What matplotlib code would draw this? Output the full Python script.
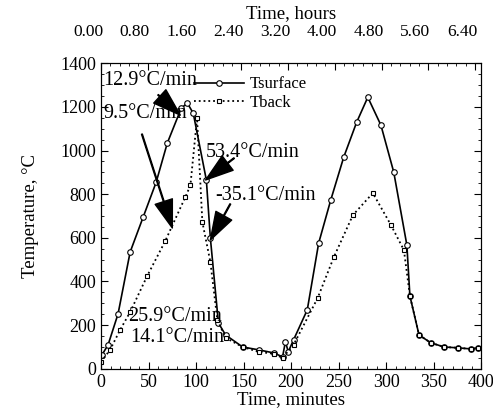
import numpy as np
import matplotlib
matplotlib.use("Agg")
from matplotlib import pyplot as plt
from matplotlib.ticker import MultipleLocator
import matplotlib.transforms as mtransforms

# Surface thermocouple (solid line)
t_surf = [1, 7.4, 17.9, 30.6, 44.3, 58, 69.7, 84.4, 90.8, 97, 110.8, 115, 123.5, 131,
          149, 165.7, 181.5, 191, 194, 197, 202.6, 217, 229, 241.7, 255.4, 269, 280.7,
          294.5, 308, 321.8, 325, 334.6, 347, 361, 375.7, 389.4, 396.8]
T_surf = [64, 110, 252, 535, 695, 855, 1034, 1194, 1217, 1171, 865, 600, 210, 155,
          100, 87, 73, 55, 124, 78, 133, 270, 576, 773, 970, 1130, 1244,
          1116, 901, 567, 334, 155, 119, 100, 96, 91, 96]

# Back-face thermocouple (dotted line)
t_back = [0, 9.5, 20, 30.6, 48.5, 67.5, 88.7, 94, 101, 106.6, 115, 122.4, 131,
          149, 165.7, 181.5, 191, 202.6, 228, 245, 265, 286, 305, 318.7, 325,
          334.6, 347, 361, 375.7, 389.4, 396.8]
T_back = [32, 87, 178, 260, 425, 585, 787, 840, 1148, 672, 490, 224, 142,
          100, 78, 69, 50, 110, 325, 512, 704, 805, 659, 544, 334,
          155, 119, 100, 96, 91, 96]

hour_ticks = [0.0, 0.8, 1.6, 2.4, 3.2, 4.0, 4.8, 5.6, 6.4]

plt.rcParams['font.family'] = ['Liberation Serif', 'DejaVu Serif']

fig = plt.figure(figsize=(4.93, 4.13), dpi=100)
ax = fig.add_axes([0.205, 0.107, 0.771, 0.74])

ax.plot(t_surf, T_surf, '-', color='black', lw=1.2, marker='o', ms=4,
        mfc='white', mec='black', mew=0.8, label='Tsurface')
ax.plot(t_back, T_back, ':', color='black', lw=1.3, marker='s', ms=3.5,
        mfc='white', mec='black', mew=0.8, label='Tback')

ax.set_xlim(0, 400)
ax.set_ylim(0, 1400)
ax.xaxis.set_major_locator(MultipleLocator(50))
ax.xaxis.set_minor_locator(MultipleLocator(10))
ax.yaxis.set_major_locator(MultipleLocator(200))
ax.yaxis.set_minor_locator(MultipleLocator(50))
ax.tick_params(which='both', direction='in', right=True, labelsize=13)
ax.tick_params(which='major', length=5)
ax.tick_params(which='minor', length=2.5)
ax.set_xlabel('Time, minutes', fontsize=13.5, labelpad=0)
ax.set_ylabel('Temperature, °C', fontsize=13.5, labelpad=15)

# top axis in hours
ax2 = ax.twiny()
ax2.set_xlim(0, 6.505)
ax2.set_xticks(hour_ticks)
ax2.set_xticklabels(['%.2f' % h for h in hour_ticks])
ax2.xaxis.set_minor_locator(MultipleLocator(0.16))
ax2.tick_params(which='both', direction='in', labelsize=12.5, pad=17)
ax2.tick_params(which='major', length=5)
ax2.tick_params(which='minor', length=2.5)
ax2.set_xlabel('Time, hours', fontsize=13.5, labelpad=4)
shift = mtransforms.ScaledTranslation(-13 / 100, 0, fig.dpi_scale_trans)
for lbl in ax2.get_xticklabels():
    lbl.set_transform(lbl.get_transform() + shift)

leg = ax.legend(loc='upper left', bbox_to_anchor=(0.215, 0.995), frameon=False,
                fontsize=12, handlelength=3.0, handletextpad=0.3,
                labelspacing=0.15, borderpad=0.2)

arrow = dict(facecolor='black', edgecolor='black', width=0.6, headwidth=13,
             headlength=20, shrink=0)
fs = 14.5
ax.text(2, 1322, '12.9°C/min', fontsize=fs, va='center', ha='left')
ax.annotate('', xy=(83.4, 1162), xytext=(60, 1255), arrowprops=arrow)
ax.text(2, 1171, '9.5°C/min', fontsize=fs, va='center', ha='left')
ax.annotate('', xy=(75, 645), xytext=(43, 1075), arrowprops=arrow)
ax.text(110, 993, '53.4°C/min', fontsize=fs, va='center', ha='left')
ax.annotate('', xy=(110, 865), xytext=(140, 965), arrowprops=arrow)
ax.text(120, 796, '-35.1°C/min', fontsize=fs, va='center', ha='left')
ax.annotate('', xy=(115, 590), xytext=(136, 755), arrowprops=arrow)
ax.text(28.5, 238, '25.9°C/min', fontsize=fs, va='center', ha='left')
ax.text(30.6, 142, '14.1°C/min', fontsize=fs, va='center', ha='left')

plt.savefig('out.png', dpi=100)
plt.close()
